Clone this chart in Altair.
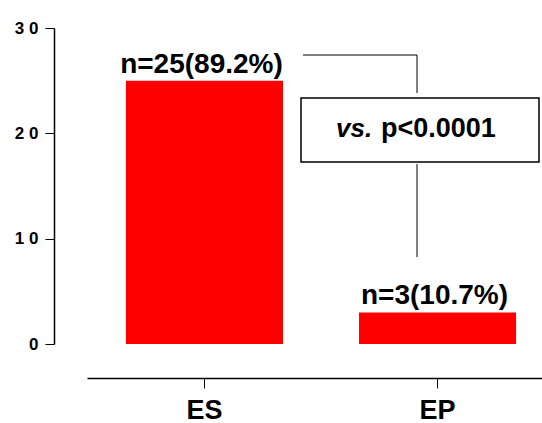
import altair as alt
import pandas as pd

# Group counts and their share of the total
groups = ["ES", "EP"]
counts = [25, 3]
percents = ["89.2%", "10.7%"]
y_ticks = [0, 10, 20, 30]

FONT = "Liberation Sans"

bars_df = pd.DataFrame({
    "group": groups,
    "count": counts,
    "label": ["n=%d(%s)" % (c, p) for c, p in zip(counts, percents)],
})
one = pd.DataFrame({"k": [0]})

x_enc = alt.X(
    "group:N", sort=groups, title=None,
    scale=alt.Scale(range=[0, 468], paddingInner=0.326, paddingOuter=0.167),
    axis=alt.Axis(
        offset=34, domainColor="black", domainWidth=1.5,
        tickColor="black", tickWidth=1, tickSize=10,
        labelFont=FONT, labelFontSize=27, labelFontWeight="bold",
        labelColor="black", labelPadding=9, labelAngle=0, grid=False,
    ),
)
y_enc = alt.Y(
    "count:Q", title=None,
    scale=alt.Scale(domain=[0, 30], nice=False, zero=True),
    axis=alt.Axis(
        values=y_ticks, offset=33, domainColor="black", domainWidth=1.5,
        tickColor="black", tickWidth=1, tickSize=9,
        labelFont=FONT, labelFontSize=17, labelFontWeight="bold",
        labelColor="black", labelPadding=7, grid=False,
        labelExpr="join(split(datum.label, ''), ' ')",
    ),
)

base = alt.Chart(bars_df)
bars = base.mark_bar(color="#ff0000").encode(x=x_enc, y=y_enc)
labels = base.mark_text(
    font=FONT, fontSize=28, fontWeight="bold", color="black",
    baseline="alphabetic", dy=-8, dx=-3,
).encode(x=alt.X("group:N", sort=groups), y="count:Q", text="label:N")

# Significance bracket with boxed p-value
ann = alt.Chart(one)
top_h = ann.mark_rule(color="black", strokeWidth=1).encode(
    x=alt.value(216), x2=alt.value(330), y=alt.value(27))
top_v = ann.mark_rule(color="black", strokeWidth=1).encode(
    x=alt.value(330), y=alt.value(27), y2=alt.value(65))
bot_v = ann.mark_rule(color="black", strokeWidth=1).encode(
    x=alt.value(330), y=alt.value(136), y2=alt.value(229))
box = ann.mark_rect(fill="white", stroke="black", strokeWidth=1.5).encode(
    x=alt.value(214), x2=alt.value(452), y=alt.value(70), y2=alt.value(134))
vs_txt = ann.mark_text(
    text="vs.", font=FONT, fontSize=26, fontWeight="bold", fontStyle="italic",
    color="black", align="left", baseline="alphabetic",
).encode(x=alt.value(249), y=alt.value(109))
p_txt = ann.mark_text(
    text="p<0.0001", font=FONT, fontSize=27, fontWeight="bold",
    color="black", align="left", baseline="alphabetic",
).encode(x=alt.value(294), y=alt.value(109))

chart = alt.layer(bars, labels, top_h, top_v, bot_v, box, vs_txt, p_txt).properties(
    width=453, height=316,
    autosize=alt.AutoSizeParams(type="none"),
    padding={"left": 87, "top": 28, "right": 2, "bottom": 79},
    background="white",
).configure_view(stroke=None)

chart.save("out.html", embed_options={"renderer": "svg", "actions": False})
